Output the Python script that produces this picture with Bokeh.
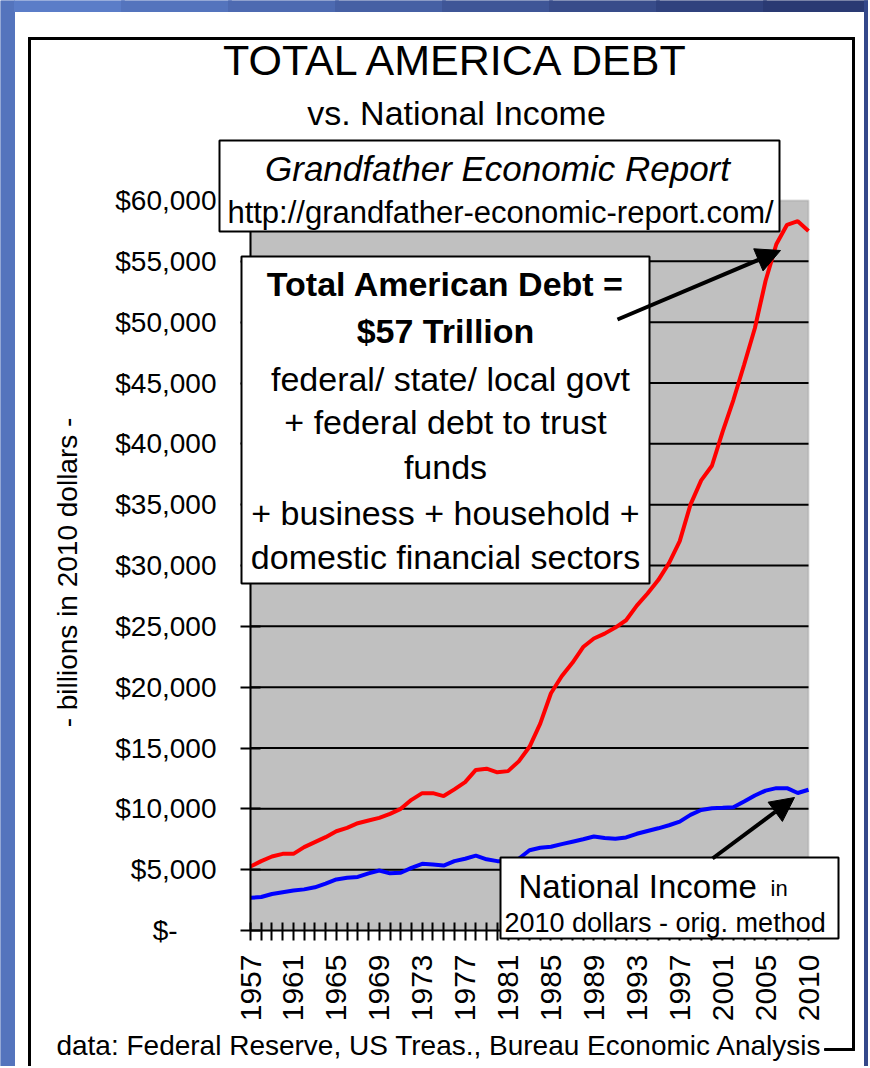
import numpy as np
from bokeh.plotting import figure
from bokeh.models import Range1d, FixedTicker, Label, BoxAnnotation, Arrow, NormalHead
from bokeh.embed import file_html
from bokeh.resources import INLINE

# ---------------- data (billions of 2010 dollars) ----------------
years = [str(y) for y in range(1957, 2009)] + ["2010"]
total_debt = [5260, 5700, 6080, 6300, 6300, 6850, 7260, 7670, 8160, 8440,
              8820, 9040, 9260, 9590, 10000, 10740, 11290, 11290, 11050, 11600,
              12200, 13200, 13300, 13000, 13100, 13900, 15100, 17000, 19500, 20900,
              22000, 23300, 24000, 24400, 24900, 25500, 26700, 27700, 28800, 30200,
              32000, 35000, 37000, 38200, 41000, 43600, 46500, 49500, 53400, 56400,
              58000, 58300, 57500]
national_income = [2690, 2750, 3000, 3150, 3280, 3380, 3550, 3850, 4200, 4330,
                   4400, 4700, 4930, 4700, 4750, 5150, 5480, 5420, 5340, 5700,
                   5900, 6150, 5850, 5700, 5700, 5900, 6600, 6800, 6880, 7100,
                   7300, 7500, 7730, 7600, 7540, 7650, 7950, 8180, 8400, 8650,
                   8950, 9500, 9900, 10050, 10080, 10130, 10600, 11100, 11500, 11700,
                   11700, 11300, 11570]
y_ticks = [0, 5000, 10000, 15000, 20000, 25000, 30000, 35000, 40000, 45000, 50000, 55000, 60000]
y_tick_labels = ["$-\u00a0\u00a0\u00a0\u00a0\u00a0", "$5,000", "$10,000", "$15,000", "$20,000", "$25,000", "$30,000",
                 "$35,000", "$40,000", "$45,000", "$50,000", "$55,000", "$60,000"]
label_step = 4

FONT = "Liberation Sans"
n = len(years)
xs = list(range(n))
YMAX = y_ticks[-1]

# ---------------- layout geometry (canvas pixels) ----------------
W, H = 868, 1066
PL, PR, PT, PB = 250, 808, 200, 930   # plot area on the canvas
XPX = (PR - PL) / (n - 1)    # px per category
YPX = (PB - PT) / YMAX       # px per dollar
x0 = -PL / XPX
y0 = -(H - PB) / YPX

p = figure(width=W, height=H, output_backend="svg", toolbar_location=None,
           x_range=Range1d(x0, x0 + W / XPX), y_range=Range1d(y0, y0 + H / YPX),
           min_border=0, min_border_left=0, min_border_right=0,
           min_border_top=0, min_border_bottom=0)
p.background_fill_color = "white"
p.border_fill_color = "white"
p.outline_line_color = None
p.xgrid.grid_line_color = None
p.ygrid.grid_line_color = None

def px(X):
    return (X - PL) / XPX

def py(Y):
    return (PB - Y) / YPX

def box(l, t, r, b, fill="white", line="black", lw=2, fill_alpha=1.0, level="annotation"):
    p.add_layout(BoxAnnotation(left=l, right=r, top=t, bottom=b,
                               left_units="canvas", right_units="canvas",
                               top_units="canvas", bottom_units="canvas",
                               fill_color=fill, fill_alpha=fill_alpha, level=level,
                               line_color=line if line else "black", line_width=lw,
                               line_alpha=1.0 if line else 0.0))

def bar(l, t, r, b, color):
    p.add_layout(BoxAnnotation(left=l, right=r, top=t, bottom=b,
                               left_units="canvas", right_units="canvas",
                               top_units="canvas", bottom_units="canvas",
                               fill_color=color, fill_alpha=1.0, level="underlay",
                               line_color=color, line_width=1, line_alpha=1.0))

def txt(s, X, Y, size, style="normal", align="center", angle=0.0):
    p.add_layout(Label(x=X, y=Y, x_units="canvas", y_units="canvas",
                       text=s, text_font=FONT, text_font_size=f"{size}px",
                       text_font_style=style, text_align=align, text_baseline="middle",
                       text_color="black", angle=angle))

# blue slide edges
bar(0, 0, 14, H, "#5474bd")
top_cols = ["#5b7dc8", "#5474bd", "#4d6ab1", "#4660a4", "#3f5697", "#384c8a", "#30427e", "#2a3a73"]
for k, c in enumerate(top_cols):
    bar(14 + k * 107, 0, 14 + (k + 1) * 107 + 3, 11, c)
bar(864, 0, W, H, "#34488a")

# outer chart frame (open at the bottom, as in the original)
bar(28, 37, 30, H, "black")
bar(28, 37, 854, 39, "black")
bar(852, 37, 854, 1050, "black")
bar(824, 1048, 854, 1050, "black")

# gray plot area
p.add_layout(BoxAnnotation(left=0, right=n - 1, bottom=0, top=YMAX, level="underlay",
                           fill_color="#c0c0c0", fill_alpha=1.0,
                           line_color="#8a8a8a", line_width=2))

# horizontal gridlines
gl = y_ticks[1:-1]
p.segment(x0=[0] * len(gl), x1=[n - 1] * len(gl), y0=gl, y1=gl, line_color="black", line_width=2)

# y axis
ya = p.yaxis[0]
ya.fixed_location = 0
ya.bounds = (0, YMAX)
ya.ticker = FixedTicker(ticks=y_ticks)
ya.major_label_overrides = {t: l for t, l in zip(y_ticks, y_tick_labels)}
ya.major_label_text_font = FONT
ya.major_label_text_font_size = "28px"
ya.major_label_text_color = "black"
ya.major_tick_in = 10
ya.major_tick_out = 10
ya.major_label_standoff = 24
ya.minor_tick_line_color = None
ya.axis_line_width = 2
ya.major_tick_line_width = 2

# x axis
xa = p.xaxis[0]
xa.fixed_location = 0
xa.bounds = (0, n - 1)
xa.ticker = FixedTicker(ticks=xs)
xa.major_label_overrides = {i: (years[i] if i % label_step == 0 else "") for i in xs}
xa.major_label_orientation = np.pi / 2
xa.major_label_text_font = FONT
xa.major_label_text_font_size = "30px"
xa.major_label_text_color = "black"
xa.major_tick_in = 8
xa.major_tick_out = 10
xa.major_label_standoff = 14
xa.minor_tick_line_color = None
xa.axis_line_width = 2
xa.major_tick_line_width = 2

# lines
p.line(xs, total_debt, line_color="#ff0000", line_width=4)
p.line(xs, national_income, line_color="#0000ff", line_width=4)

# titles
txt("TOTAL AMERICA DEBT", 457, 59, 43)
txt("vs. National Income", 456, 112, 34)

# y axis title
txt("- billions in 2010 dollars -", 67, 572, 28, angle=np.pi / 2)

# source
txt("data: Federal Reserve, US Treas., Bureau Economic Analysis", 439, 1045, 28)

# Grandfather box
box(219, 140, 779, 231)
txt("Grandfather Economic Report", 497, 168, 35, style="italic")
txt("http://grandfather-economic-report.com/", 500, 212, 31)

# big debt box
box(241, 256, 649, 583)
txt("Total American Debt =", 445, 283, 34, style="bold")
txt("$57 Trillion", 445, 330, 34, style="bold")
txt("federal/ state/ local govt", 450, 378, 34)
txt("+ federal debt to trust", 445, 421, 34)
txt("funds", 445, 466, 34)
txt("+ business + household +", 445, 512, 34)
txt("domestic financial sectors", 445, 556, 34)

# national income box
box(500, 857, 838, 938)
txt("National Income", 518, 886, 33, align="left")
txt("in", 770, 888, 22, align="left")
txt("2010 dollars - orig. method", 504, 922, 27, align="left")

# arrows
p.add_layout(Arrow(end=NormalHead(size=24, fill_color="black", line_color="black"),
                   x_start=px(617), y_start=py(319), x_end=px(780), y_end=py(250),
                   line_color="black", line_width=4))
p.add_layout(Arrow(end=NormalHead(size=24, fill_color="black", line_color="black"),
                   x_start=px(712), y_start=py(858), x_end=px(794), y_end=py(797),
                   line_color="black", line_width=4))

open("out.html", "w").write(file_html(p, INLINE))
